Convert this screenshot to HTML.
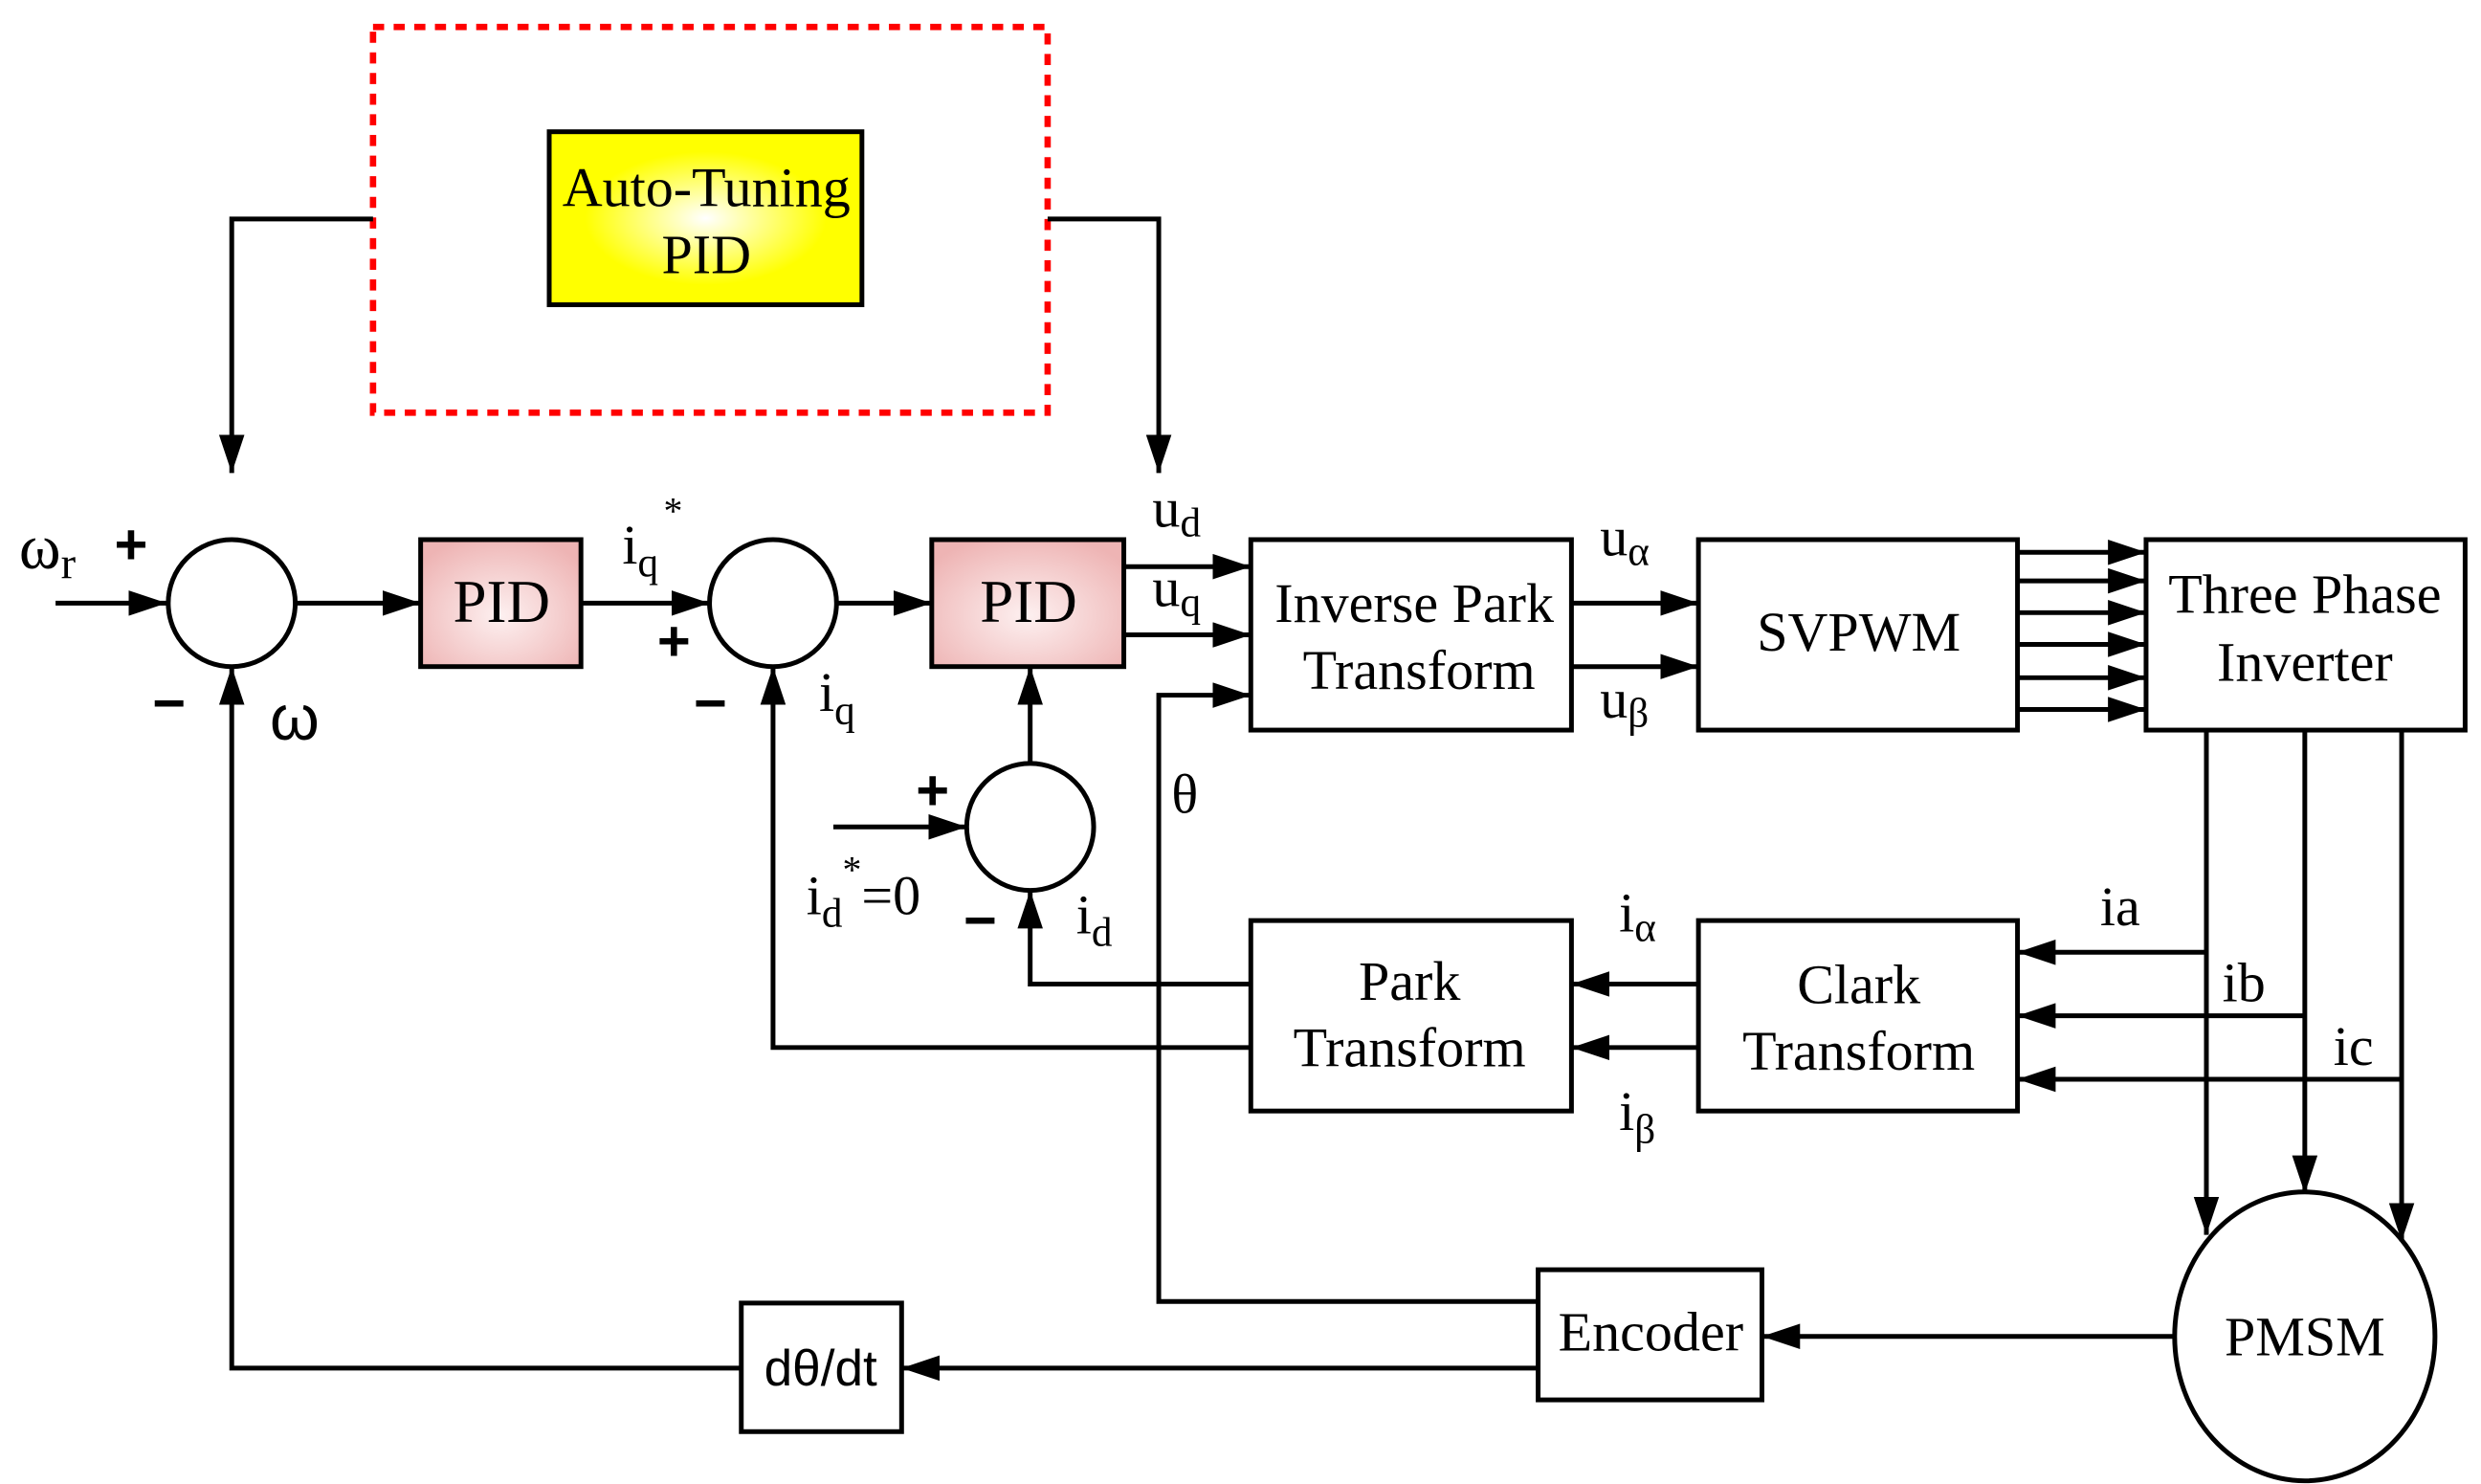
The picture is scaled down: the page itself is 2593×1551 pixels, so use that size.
<!DOCTYPE html>
<html><head><meta charset="utf-8"><style>html,body{margin:0;padding:0;background:#fff}svg{display:block}</style></head>
<body>
<svg width="2593" height="1551" viewBox="0 0 1563 935" preserveAspectRatio="none" xmlns="http://www.w3.org/2000/svg" font-family="'Liberation Serif', serif" font-size="35">
<defs>
<marker id="a" viewBox="0 0 24 16" refX="24" refY="8" markerWidth="24" markerHeight="16" markerUnits="userSpaceOnUse" orient="auto"><path d="M0,0 L24,8 L0,16 z" fill="#000"/></marker>
<radialGradient id="y" cx="50%" cy="50%" r="55%"><stop offset="0" stop-color="#fff"/><stop offset="0.7" stop-color="#ffff00"/><stop offset="1" stop-color="#ffff00"/></radialGradient>
<radialGradient id="p" cx="50%" cy="60%" r="65%"><stop offset="0" stop-color="#fdf0f0"/><stop offset="1" stop-color="#eeb4b4"/></radialGradient>
</defs>
<g fill="none" stroke="#000" stroke-width="3">
<rect x="235" y="17" width="425" height="243" stroke="#f00" stroke-width="4" stroke-dasharray="7,6"/>
<rect x="346" y="83" width="197" height="109" fill="url(#y)"/>
<polyline points="235,138 146,138 146,298" marker-end="url(#a)"/>
<polyline points="660,138 730,138 730,298" marker-end="url(#a)"/>
<ellipse cx="146" cy="380" rx="40" ry="40"/>
<ellipse cx="487" cy="380" rx="40" ry="40"/>
<ellipse cx="649" cy="521" rx="40" ry="40"/>
<line x1="35" y1="380" x2="105" y2="380" marker-end="url(#a)"/>
<line x1="186" y1="380" x2="265" y2="380" marker-end="url(#a)"/>
<rect x="265" y="340" width="101" height="80" fill="url(#p)"/>
<line x1="366" y1="380" x2="447" y2="380" marker-end="url(#a)"/>
<line x1="527" y1="380" x2="587" y2="380" marker-end="url(#a)"/>
<rect x="587" y="340" width="121" height="80" fill="url(#p)"/>
<line x1="708" y1="357" x2="788" y2="357" marker-end="url(#a)"/>
<line x1="708" y1="400" x2="788" y2="400" marker-end="url(#a)"/>
<polyline points="969,820 730,820 730,438 788,438" marker-end="url(#a)"/>
<rect x="788" y="340" width="202" height="120"/>
<line x1="990" y1="380" x2="1070" y2="380" marker-end="url(#a)"/>
<line x1="990" y1="420" x2="1070" y2="420" marker-end="url(#a)"/>
<rect x="1070" y="340" width="201" height="120"/>
<line x1="1271" y1="348" x2="1352" y2="348" marker-end="url(#a)"/>
<line x1="1271" y1="366" x2="1352" y2="366" marker-end="url(#a)"/>
<line x1="1271" y1="386" x2="1352" y2="386" marker-end="url(#a)"/>
<line x1="1271" y1="406" x2="1352" y2="406" marker-end="url(#a)"/>
<line x1="1271" y1="427" x2="1352" y2="427" marker-end="url(#a)"/>
<line x1="1271" y1="447" x2="1352" y2="447" marker-end="url(#a)"/>
<rect x="1352" y="340" width="201" height="120"/>
<line x1="1390" y1="460" x2="1390" y2="778" marker-end="url(#a)"/>
<line x1="1452" y1="460" x2="1452" y2="752" marker-end="url(#a)"/>
<line x1="1513" y1="460" x2="1513" y2="782" marker-end="url(#a)"/>
<ellipse cx="1452" cy="842" rx="82" ry="91"/>
<line x1="1390" y1="600" x2="1271" y2="600" marker-end="url(#a)"/>
<line x1="1452" y1="640" x2="1271" y2="640" marker-end="url(#a)"/>
<line x1="1513" y1="680" x2="1271" y2="680" marker-end="url(#a)"/>
<rect x="1070" y="580" width="201" height="120"/>
<line x1="1070" y1="620" x2="990" y2="620" marker-end="url(#a)"/>
<line x1="1070" y1="660" x2="990" y2="660" marker-end="url(#a)"/>
<rect x="788" y="580" width="202" height="120"/>
<polyline points="788,620 649,620 649,561" marker-end="url(#a)"/>
<polyline points="788,660 487,660 487,420" marker-end="url(#a)"/>
<line x1="649" y1="481" x2="649" y2="420" marker-end="url(#a)"/>
<line x1="525" y1="521" x2="609" y2="521" marker-end="url(#a)"/>
<line x1="1370" y1="842" x2="1110" y2="842" marker-end="url(#a)"/>
<rect x="969" y="800" width="141" height="82"/>
<line x1="969" y1="862" x2="568" y2="862" marker-end="url(#a)"/>
<rect x="467" y="821" width="101" height="81"/>
<polyline points="467,862 146,862 146,420" marker-end="url(#a)"/>
</g>
<g fill="#000" text-anchor="middle">
<text x="445" y="130">Auto-Tuning</text>
<text x="445" y="172">PID</text>
<text x="316" y="392" font-size="38">PID</text>
<text x="648" y="392" font-size="38">PID</text>
<text x="891" y="392">Inverse Park</text>
<text x="894" y="434">Transform</text>
<text x="1171" y="410">SVPWM</text>
<text x="1452" y="386">Three Phase</text>
<text x="1452" y="429">Inverter</text>
<text x="888" y="630">Park</text>
<text x="888" y="672">Transform</text>
<text x="1171" y="632">Clark</text>
<text x="1171" y="674">Transform</text>
<text x="1040" y="851">Encoder</text>
<text x="1452" y="854">PMSM</text>
<text x="517" y="873" font-family="'Liberation Sans', sans-serif" font-size="32">dθ/dt</text>
</g>
<g fill="#000">
<text x="12" y="358" font-size="40">ω<tspan font-size="28" dy="6">r</tspan></text>
<text x="72" y="355" font-family="'Liberation Sans',sans-serif" font-weight="bold" font-size="36">+</text>
<text x="96" y="455" font-family="'Liberation Sans',sans-serif" font-weight="bold" font-size="36">−</text>
<text x="170" y="466" font-family="'Liberation Sans',sans-serif" font-size="40">ω</text>
<text x="392" y="355">i<tspan font-size="26" dy="8">q</tspan></text>
<text x="418" y="330" font-size="24">*</text>
<text x="414" y="416" font-family="'Liberation Sans',sans-serif" font-weight="bold" font-size="36">+</text>
<text x="437" y="455" font-family="'Liberation Sans',sans-serif" font-weight="bold" font-size="36">−</text>
<text x="516" y="448">i<tspan font-size="26" dy="8">q</tspan></text>
<text x="726" y="332">u<tspan font-size="26" dy="6">d</tspan></text>
<text x="726" y="382">u<tspan font-size="26" dy="6">q</tspan></text>
<text x="738" y="512">θ</text>
<text x="577" y="510" font-family="'Liberation Sans',sans-serif" font-weight="bold" font-size="36">+</text>
<text x="508" y="576">i<tspan font-size="26" dy="8">d</tspan><tspan font-size="24" dy="-28">*</tspan><tspan dy="20">=0</tspan></text>
<text x="607" y="592" font-family="'Liberation Sans',sans-serif" font-weight="bold" font-size="36">−</text>
<text x="678" y="588">i<tspan font-size="26" dy="8">d</tspan></text>
<text x="1008" y="350">u<tspan font-size="26" dy="6">α</tspan></text>
<text x="1008" y="452">u<tspan font-size="26" dy="6">β</tspan></text>
<text x="1020" y="587">i<tspan font-size="26" dy="6">α</tspan></text>
<text x="1020" y="712">i<tspan font-size="26" dy="8">β</tspan></text>
<text x="1323" y="583">ia</text>
<text x="1400" y="631">ib</text>
<text x="1470" y="671">ic</text>
</g>
</svg>
</body></html>
